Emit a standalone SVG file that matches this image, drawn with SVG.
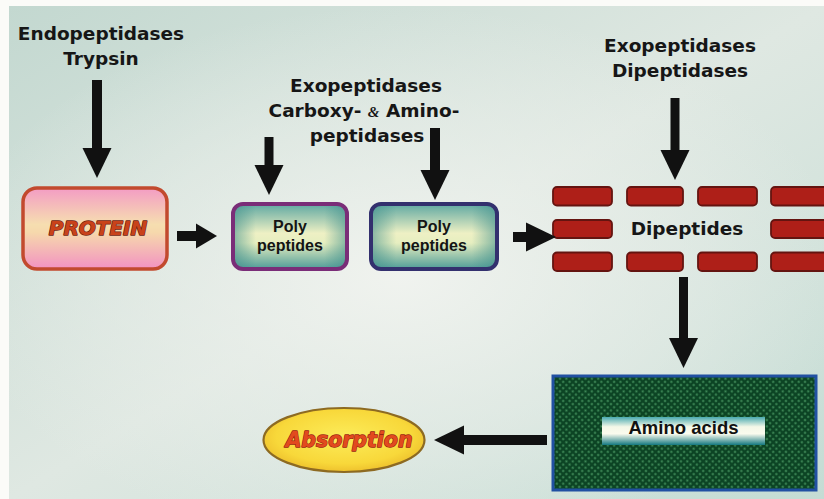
<svg xmlns="http://www.w3.org/2000/svg" width="824" height="499" viewBox="0 0 824 499">
  <defs>
    <!-- page background: pale teal/grey with a lighter middle -->
    <linearGradient id="bgLin" x1="0" y1="0" x2="1" y2="1">
      <stop offset="0" stop-color="#c3d8d0"/>
      <stop offset="0.5" stop-color="#dfe8e2"/>
      <stop offset="1" stop-color="#c4dcd4"/>
    </linearGradient>
    <radialGradient id="bgGlow" cx="0.48" cy="0.55" r="0.55">
      <stop offset="0" stop-color="#f2f4f0" stop-opacity="0.9"/>
      <stop offset="0.6" stop-color="#eaefea" stop-opacity="0.5"/>
      <stop offset="1" stop-color="#eaefea" stop-opacity="0"/>
    </radialGradient>
    <linearGradient id="proteinFill" x1="0" y1="0" x2="0" y2="1">
      <stop offset="0" stop-color="#f39cc4"/>
      <stop offset="0.45" stop-color="#f6deb0"/>
      <stop offset="0.55" stop-color="#f6d8ac"/>
      <stop offset="1" stop-color="#f292c2"/>
    </linearGradient>
    <linearGradient id="polyFill" x1="0" y1="0" x2="0" y2="1">
      <stop offset="0" stop-color="#5fa8a2"/>
      <stop offset="0.45" stop-color="#eef0c4"/>
      <stop offset="0.6" stop-color="#e6eec0"/>
      <stop offset="1" stop-color="#4e9c98"/>
    </linearGradient>
    <linearGradient id="polyEdge" x1="0" y1="0" x2="1" y2="0">
      <stop offset="0" stop-color="#3f8f8c" stop-opacity="0.6"/>
      <stop offset="0.2" stop-color="#3f8f8c" stop-opacity="0"/>
      <stop offset="0.8" stop-color="#3f8f8c" stop-opacity="0"/>
      <stop offset="1" stop-color="#3f8f8c" stop-opacity="0.6"/>
    </linearGradient>
    <linearGradient id="barFill" x1="0" y1="0" x2="0" y2="1">
      <stop offset="0" stop-color="#4aaab0"/>
      <stop offset="0.35" stop-color="#f4f8e8"/>
      <stop offset="0.6" stop-color="#fbfbee"/>
      <stop offset="1" stop-color="#137880"/>
    </linearGradient>
    <radialGradient id="absFill" cx="0.5" cy="0.45" r="0.6">
      <stop offset="0" stop-color="#fcec5a"/>
      <stop offset="0.7" stop-color="#f8d83a"/>
      <stop offset="1" stop-color="#eab828"/>
    </radialGradient>
    <!-- dotted dark-green texture -->
    <pattern id="dots" width="4.5" height="4.5" patternUnits="userSpaceOnUse" patternTransform="rotate(45)">
      <rect width="4.5" height="4.5" fill="#0c4424"/>
      <circle cx="2.25" cy="2.25" r="1.1" fill="#3f8a58"/>
    </pattern>
    <marker id="head" viewBox="0 -15 30 30" refX="1" refY="0" markerWidth="30" markerHeight="30" markerUnits="userSpaceOnUse" orient="auto">
      <path d="M0,-14.5 L30,0 L0,14.5 Z" fill="#111"/>
    </marker>
    <marker id="headSm" viewBox="0 -13 22 26" refX="1" refY="0" markerWidth="22" markerHeight="26" markerUnits="userSpaceOnUse" orient="auto">
      <path d="M0,-12.5 L21,0 L0,12.5 Z" fill="#111"/>
    </marker>
    <style>
      .label { font-family: "DejaVu Sans", Verdana, sans-serif; font-weight: bold; font-size: 18.5px; fill: #161616; text-anchor: middle; }
      .poly { font-family: "Liberation Sans", Arial, sans-serif; font-weight: bold; font-size: 16px; fill: #141414; text-anchor: middle; }
      .fancy { font-family: "DejaVu Sans", Verdana, sans-serif; font-weight: bold; font-style: italic; text-anchor: middle; paint-order: stroke; stroke-linejoin: round; }
      .shaft { stroke: #111; fill: none; }
      .dip { fill: #ae1f18; stroke: #641410; stroke-width: 1.8; }
    </style>
  </defs>

  <!-- page -->
  <rect width="824" height="499" fill="#fbfbf8"/>
  <rect x="9" y="6" width="815" height="493" fill="url(#bgLin)"/>
  <rect x="9" y="6" width="815" height="493" fill="url(#bgGlow)"/>

  <!-- enzyme labels -->
  <g id="endopeptidases">
    <text class="label" x="101" y="40">Endopeptidases</text>
    <text class="label" x="101" y="65">Trypsin</text>
  </g>
  <g id="exopeptidases-carboxy-amino">
    <text class="label" x="366" y="92">Exopeptidases</text>
    <text class="label" x="364" y="117">Carboxy- <tspan font-family="Liberation Serif, serif" font-style="italic" font-size="15">&amp;</tspan> Amino-</text>
    <text class="label" x="367" y="142">peptidases</text>
  </g>
  <g id="exopeptidases-dipeptidases">
    <text class="label" x="680" y="52">Exopeptidases</text>
    <text class="label" x="680" y="77">Dipeptidases</text>
  </g>

  <!-- nodes -->
  <g id="protein">
    <rect x="23" y="188" width="144" height="81" rx="14" fill="url(#proteinFill)" stroke="#c24a2e" stroke-width="3.5"/>
    <text class="fancy" x="98" y="235" font-size="20" fill="#c9421a" stroke="#6e2210" stroke-width="1.4">PROTEIN</text>
  </g>

  <g id="polypeptides-1">
    <rect x="233" y="204" width="114" height="65" rx="10" fill="url(#polyFill)"/>
    <rect x="233" y="204" width="114" height="65" rx="10" fill="url(#polyEdge)" stroke="#7a2d78" stroke-width="4"/>
    <text class="poly" x="290" y="232">Poly</text>
    <text class="poly" x="290" y="251">peptides</text>
  </g>

  <g id="polypeptides-2">
    <rect x="371" y="204" width="126" height="65" rx="10" fill="url(#polyFill)"/>
    <rect x="371" y="204" width="126" height="65" rx="10" fill="url(#polyEdge)" stroke="#33306e" stroke-width="4"/>
    <text class="poly" x="434" y="232">Poly</text>
    <text class="poly" x="434" y="251">peptides</text>
  </g>

  <g id="dipeptides">
    <rect class="dip" x="553" y="187" width="59" height="18.5" rx="4"/>
    <rect class="dip" x="627" y="187" width="56" height="18.5" rx="4"/>
    <rect class="dip" x="698" y="187" width="59" height="18.5" rx="4"/>
    <rect class="dip" x="771" y="187" width="60" height="18.5" rx="4"/>
    <rect class="dip" x="553" y="220" width="59" height="18" rx="4"/>
    <rect class="dip" x="771" y="220" width="60" height="18" rx="4"/>
    <rect class="dip" x="553" y="252.5" width="59" height="18.5" rx="4"/>
    <rect class="dip" x="627" y="252.5" width="56" height="18.5" rx="4"/>
    <rect class="dip" x="698" y="252.5" width="59" height="18.5" rx="4"/>
    <rect class="dip" x="771" y="252.5" width="60" height="18.5" rx="4"/>
    <text class="label" x="687" y="235" font-size="19">Dipeptides</text>
  </g>

  <g id="amino-acids">
    <rect x="553" y="376" width="263" height="114" fill="url(#dots)" stroke="#2150a2" stroke-width="3"/>
    <rect x="602" y="417" width="163" height="28" fill="url(#barFill)"/>
    <text x="683.5" y="434" font-family="Liberation Sans, Arial, sans-serif" font-weight="bold" font-size="18.5" fill="#111" text-anchor="middle">Amino acids</text>
  </g>

  <g id="absorption">
    <ellipse cx="344" cy="440" rx="80.5" ry="32" fill="url(#absFill)" stroke="#8d6a22" stroke-width="2.2"/>
    <text class="fancy" x="349" y="447" font-size="20.5" fill="#e24a1e" stroke="#9a2412" stroke-width="1.3">Absorption</text>
  </g>

  <!-- connectors -->
  <g id="connectors">
    <line class="shaft" x1="97" y1="80" x2="97" y2="149" stroke-width="10" marker-end="url(#head)"/>
    <line class="shaft" x1="269" y1="137" x2="269" y2="166" stroke-width="9" marker-end="url(#head)"/>
    <line class="shaft" x1="435" y1="128" x2="435" y2="171" stroke-width="10" marker-end="url(#head)"/>
    <line class="shaft" x1="675" y1="98" x2="675" y2="151" stroke-width="9" marker-end="url(#head)"/>
    <line class="shaft" x1="177" y1="236" x2="197" y2="236" stroke-width="10" marker-end="url(#headSm)"/>
    <line class="shaft" x1="513" y1="237" x2="527" y2="237" stroke-width="10" marker-end="url(#head)"/>
    <line class="shaft" x1="683.5" y1="277" x2="683.5" y2="339" stroke-width="9" marker-end="url(#head)"/>
    <line class="shaft" x1="547" y1="440" x2="463" y2="440" stroke-width="10" marker-end="url(#head)"/>
  </g>
</svg>
